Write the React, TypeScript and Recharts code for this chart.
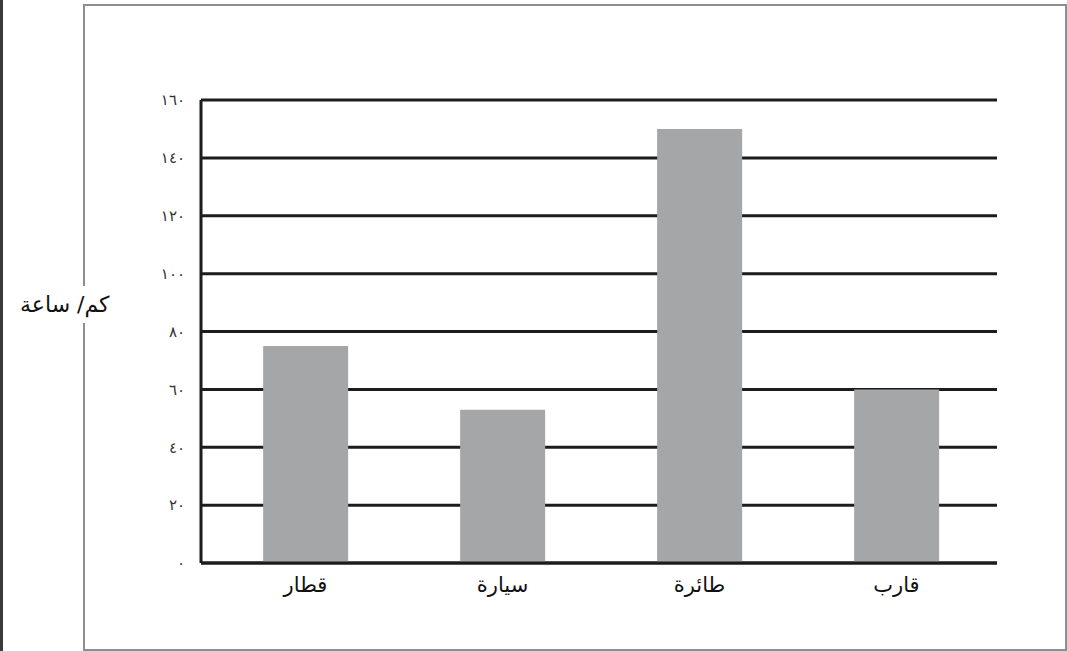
import React from 'react';
import { BarChart, Bar, XAxis, YAxis, CartesianGrid } from 'recharts';

const categories = ['قطار', 'سيارة', 'طائرة', 'قارب'];
const speeds = [75, 53, 150, 60];
const yTicks = [0, 20, 40, 60, 80, 100, 120, 140, 160];
const yTickLabels = ['٠', '٢٠', '٤٠', '٦٠', '٨٠', '١٠٠', '١٢٠', '١٤٠', '١٦٠'];
const yAxisTitle = 'كم/ ساعة';

const chartData = categories.map((name, i) => ({ name, speed: speeds[i] }));

const arabicFont = '"DejaVu Sans", sans-serif';

export default function App() {
  return (
    <div
      style={{
        position: 'fixed',
        left: 0,
        top: 0,
        width: 1067,
        height: 651,
        background: '#fff',
        overflow: 'hidden',
      }}
    >
      {/* dark strip on the left edge */}
      <div style={{ position: 'absolute', left: 0, top: 0, width: 3, height: 651, background: '#3a3a3a' }} />
      {/* outer frame */}
      <div
        style={{
          position: 'absolute',
          left: 83,
          top: 4,
          width: 980,
          height: 643,
          border: '2px solid #8e8e8e',
        }}
      />
      <div style={{ position: 'absolute', left: 0, top: 0 }}>
        <BarChart
          width={1067}
          height={651}
          data={chartData}
          margin={{ top: 100, right: 70, bottom: 58, left: 141 }}
          barCategoryGap="28.5%"
        >
          <CartesianGrid vertical={false} stroke="#1c1c1c" strokeWidth={3} />
          <XAxis
            dataKey="name"
            padding={{ left: 6, right: 2 }}
            axisLine={{ stroke: '#1c1c1c', strokeWidth: 3 }}
            tickLine={false}
            tickSize={6}
            tickMargin={8}
            height={30}
            tick={{ fill: '#111', fontSize: 21, fontFamily: arabicFont }}
          />
          <YAxis
            domain={[0, 160]}
            ticks={yTicks}
            width={60}
            axisLine={{ stroke: '#1c1c1c', strokeWidth: 3 }}
            tickLine={false}
            tickSize={6}
            tickMargin={10}
            tickFormatter={(v: number) => yTickLabels[yTicks.indexOf(v)] ?? String(v)}
            tick={{ fill: '#333', fontSize: 15, fontFamily: arabicFont }}
          />
          <Bar dataKey="speed" fill="#a4a6a7" isAnimationActive={false} />
        </BarChart>
      </div>
      {/* y axis title sits over the frame edge */}
      <div
        style={{
          position: 'absolute',
          left: 16,
          top: 286,
          padding: '6px 4px',
          background: '#fff',
          fontFamily: arabicFont,
          fontSize: 22,
          color: '#111',
          direction: 'rtl',
          whiteSpace: 'nowrap',
        }}
      >
        {yAxisTitle}
      </div>
    </div>
  );
}
